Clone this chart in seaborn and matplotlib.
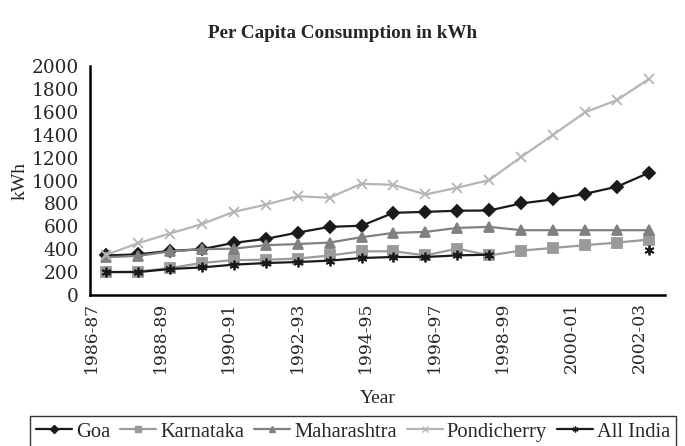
import numpy as np
import pandas as pd
import matplotlib as mpl
mpl.use("Agg")
import matplotlib.pyplot as plt
import seaborn as sns

# 18 yearly observations, x axis only labels every ~2nd year
year_labels = ["1986-87", "1988-89", "1990-91", "1992-93", "1994-95",
               "1996-97", "1998-99", "2000-01", "2002-03"]
n_points = 18

goa = [345, 355, 385, 400, 455, 490, 545, 595, 605, 718, 726, 736, 738,
       800, 835, 884, 946, 1068]
karnataka = [200, 205, 235, 280, 305, 308, 318, 345, 381, 382, 346, 405, 346,
             388, 411, 435, 458, 484]
maharashtra = [330, 342, 380, 400, 405, 435, 445, 458, 505, 542, 551, 586, 595,
               566, 566, 566, 566, 566]
pondicherry = [350, 452, 537, 619, 726, 789, 862, 850, 972, 962, 878, 937, 1004,
               1206, 1400, 1596, 1703, 1887]
all_india = [200, 200, 227, 241, 265, 279, 288, 300, 323, 332, 332, 346, 352,
             np.nan, np.nan, np.nan, np.nan, 396]

series = {"Goa": goa, "Karnataka": karnataka, "Maharashtra": maharashtra,
          "Pondicherry": pondicherry, "All India": all_india}

colors = {"Goa": "#1a1a1a", "Karnataka": "#9a9a9a", "Maharashtra": "#808080",
          "Pondicherry": "#b5b5b5", "All India": "#1a1a1a"}
markers = {"Goa": "D", "Karnataka": "s", "Maharashtra": "^",
           "Pondicherry": "x", "All India": (6, 2, 0)}
msizes = {"Goa": 6.5, "Karnataka": 7, "Maharashtra": 7.5,
          "Pondicherry": 7, "All India": 7}

rows = []
for name, vals in series.items():
    seg = 0
    for i, v in enumerate(vals):
        if np.isnan(v):
            seg += 1
            continue
        rows.append({"idx": i, "kWh": v, "state": name, "seg": seg})
df = pd.DataFrame(rows)

sns.set_style("white")
plt.rcParams["font.family"] = ["Liberation Serif", "DejaVu Serif"]

fig = plt.figure(figsize=(6.85, 4.46), dpi=100)
ax = fig.add_axes([90 / 685, 1 - 295 / 446, 575 / 685, 229 / 446])

for name in series:
    sub = df[df.state == name]
    for seg, part in sub.groupby("seg"):
        sns.lineplot(data=part, x="idx", y="kWh", ax=ax, color=colors[name],
                     marker=markers[name], markersize=msizes[name],
                     markeredgecolor=colors[name], markeredgewidth=1.3,
                     linewidth=1.6, estimator=None, sort=False, legend=False)

ax.set_xlim(-0.5, n_points - 0.5)
ax.set_ylim(0, 2000)
ax.set_yticks(np.arange(0, 2001, 200))
ax.set_xticks(np.arange(n_points + 1) - 0.5)
ax.set_xticklabels([])
ax.set_xticks(np.linspace(-0.45, 16.7, len(year_labels)), minor=True)
ax.set_xticklabels(year_labels, minor=True, rotation=90,
                   fontfamily="DejaVu Serif", fontsize=12.3)
ax.tick_params(axis="x", which="minor", length=0, pad=5)
ax.tick_params(axis="x", which="major", length=5, width=1.5, color="black",
               direction="out")
ax.tick_params(axis="y", length=5, width=1.5, color="black", direction="out",
               pad=3)
for lab in ax.get_yticklabels():
    lab.set_fontfamily("DejaVu Serif")
    lab.set_fontsize(13.3)

sns.despine(ax=ax)
for side in ["left", "bottom"]:
    ax.spines[side].set_color("black")
    ax.spines[side].set_linewidth(1.8)

ax.set_xlabel("Year", fontsize=14, labelpad=12)
ax.set_ylabel("kWh", fontsize=14, labelpad=2)
fig.suptitle("Per Capita Consumption in kWh", fontsize=13.8,
             fontweight="bold", y=0.945)

handles = [mpl.lines.Line2D([], [], color=colors[n], marker=markers[n],
                            markersize=msizes[n] * 0.6,
                            markeredgecolor=colors[n], markeredgewidth=1,
                            linewidth=1.6)
           for n in series]
leg = fig.legend(handles, list(series), loc="upper center",
                 bbox_to_anchor=(353 / 685, 1 - 416 / 446), ncol=5,
                 fontsize=14.8, frameon=True, fancybox=False,
                 handlelength=1.75, handletextpad=0.2, columnspacing=0.48,
                 borderpad=0.3, borderaxespad=0)
leg.get_frame().set_edgecolor("black")
leg.get_frame().set_linewidth(1.0)

fig.savefig("out.png", dpi=100)
